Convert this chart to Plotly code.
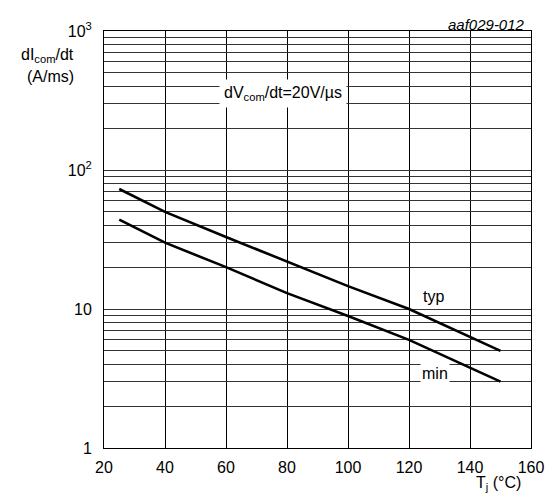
import plotly.graph_objects as go
import math

# Data
tj_typ = [25, 40, 60, 80, 100, 120, 150]
di_typ = [73, 50, 33, 22, 14.6, 10, 5]
tj_min = [25, 40, 60, 80, 100, 120, 150]
di_min = [44, 30, 20, 13, 8.9, 6.0, 3.0]

x_ticks = [20, 40, 60, 80, 100, 120, 140, 160]
y_major = [1, 10, 100, 1000]
y_major_text = ["1", "10", "10<sup>2</sup>", "10<sup>3</sup>"]

FONT = "Liberation Sans, Arial, sans-serif"

# y tick values: all decade subdivisions, only majors labelled
yvals, ytext = [], []
for d in [1, 10, 100]:
    for m in range(1, 10):
        v = d * m
        yvals.append(v)
        ytext.append(y_major_text[y_major.index(v)] if v in y_major else "")
yvals.append(1000)
ytext.append(y_major_text[3])

fig = go.Figure()
fig.add_trace(go.Scatter(x=tj_typ, y=di_typ, mode="lines",
                         line=dict(color="black", width=2.6), showlegend=False))
fig.add_trace(go.Scatter(x=tj_min, y=di_min, mode="lines",
                         line=dict(color="black", width=2.6), showlegend=False))

fig.update_layout(
    width=548, height=495,
    margin=dict(l=96, r=25, t=12, b=55),
    paper_bgcolor="white", plot_bgcolor="white",
    font=dict(family=FONT, size=16, color="black"),
    xaxis=dict(range=[20, 160], tickvals=x_ticks, showgrid=True, gridcolor="black",
               gridwidth=1, showline=True, linecolor="black", linewidth=1, mirror=True,
               ticks="", zeroline=False, ticklabelstandoff=5),
    yaxis=dict(type="log", range=[0, 3], tickvals=yvals, ticktext=ytext,
               showgrid=True, gridcolor="#333333", gridwidth=1, showline=True,
               linecolor="black", linewidth=1, mirror=True, ticks="",
               zeroline=False, ticklabelstandoff=8),
)

C = dict(xanchor="center", yanchor="middle", showarrow=False)
annos = [
    dict(x=78.8, y=math.log10(355), xref="x", yref="y",
         text="dV<sub>com</sub>/dt=20V/µs", bgcolor="white",
         borderpad=4, font=dict(size=16), **C),
    dict(x=128, y=math.log10(12.4), xref="x", yref="y", text="typ",
         bgcolor="white", font=dict(size=16), **C),
    dict(x=128.5, y=math.log10(3.45), xref="x", yref="y", text="min",
         bgcolor="white", font=dict(size=16), **C),
    dict(x=-0.132, y=0.942, xref="paper", yref="paper",
         text="dI<sub>com</sub>/dt", font=dict(size=16), **C),
    dict(x=-0.126, y=0.89, xref="paper", yref="paper",
         text="(A/ms)", font=dict(size=16), **C),
    dict(x=0.991, y=1.016, xref="paper", yref="paper", xanchor="right", yanchor="middle",
         text="<i>aaf029-012</i>", showarrow=False, font=dict(size=15)),
    dict(x=0.924, y=-0.084, xref="paper", yref="paper",
         text="T<sub>j</sub> (°C)", font=dict(size=16), **C),
]
fig.update_layout(annotations=annos)

fig.write_html("out.html")
